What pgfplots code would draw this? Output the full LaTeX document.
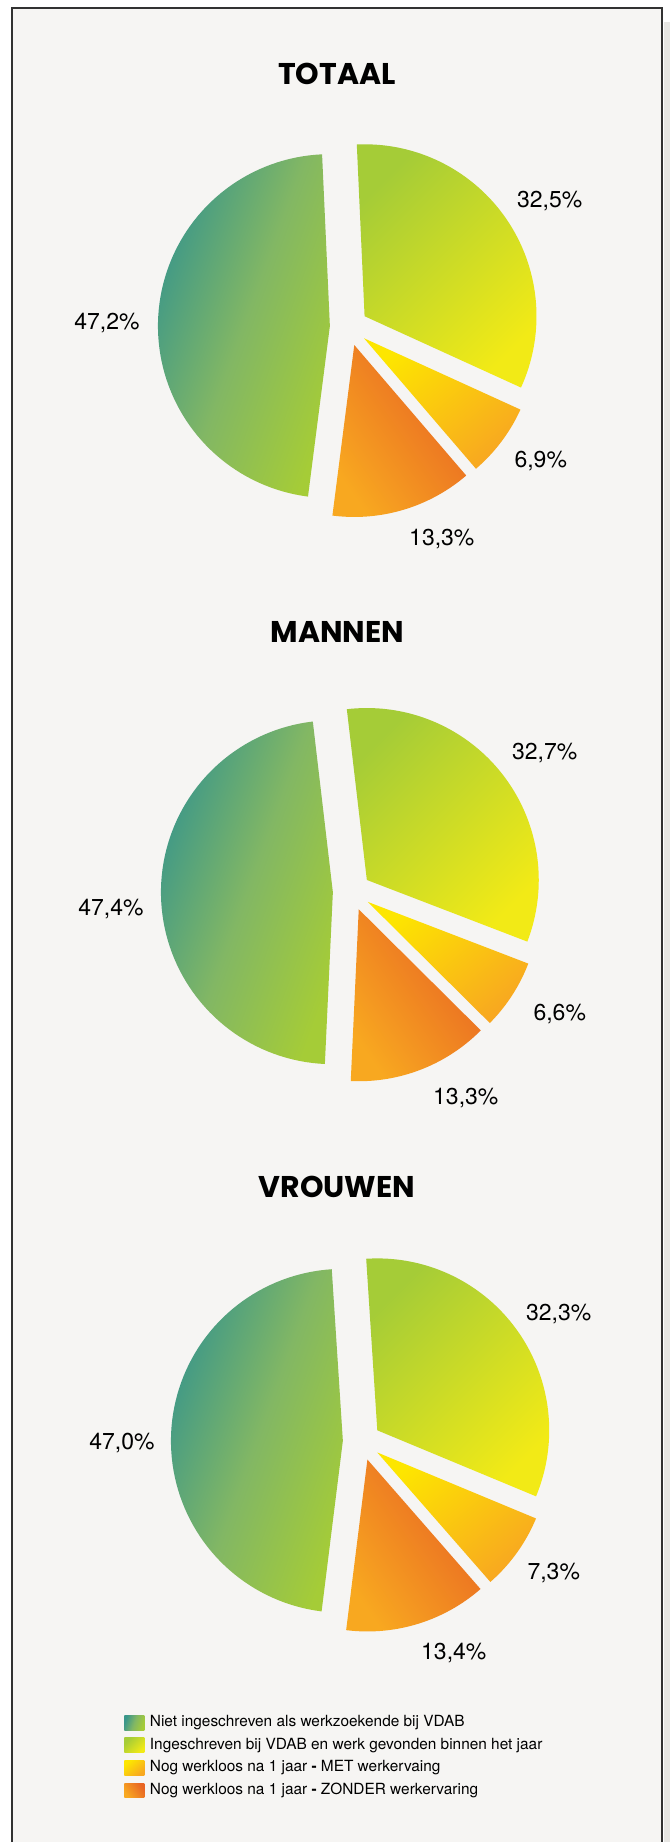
\documentclass[border=0pt]{standalone}
\usepackage{fontspec}
\setmainfont{TeX Gyre Heros}
\newfontfamily\titlefont{Poppins}
\usepackage{pgfplots}
\usepackage{pgfplotstable}
\pgfplotsset{compat=1.18}

\definecolor{panel}{RGB}{246,245,243}
\definecolor{shadowgray}{RGB}{231,230,227}
\definecolor{framec}{RGB}{50,50,50}
\definecolor{teal1}{RGB}{58,150,138}
\definecolor{green1}{RGB}{130,183,100}
\definecolor{green2}{RGB}{165,204,55}
\definecolor{yellow1}{RGB}{242,234,22}
\definecolor{yellow2}{RGB}{253,230,0}
\definecolor{orange1}{RGB}{248,168,32}
\definecolor{orange2}{RGB}{232,100,35}

% shares in legend order: niet ingeschreven, werk gevonden, MET, ZONDER
% lx, ly: label centre in picture pixels (y downwards)
\pgfplotstableread{
share lx  ly
47.2  107 322
32.5  550 200
6.9   541 460
13.3  442 538
}\totaal
\pgfplotstableread{
share lx  ly
47.4  111 908
32.7  545 752
6.6   560 1013
13.3  466 1097
}\mannen
\pgfplotstableread{
share lx  ly
47.0  122 1442
32.3  559 1313
7.3   554 1572
13.4  454 1652
}\vrouwen

\tikzset{
  slA/.style={left color=teal1, right color=green2, middle color=green1, shading angle=70},
  slB/.style={left color=green2, right color=yellow1, shading angle=45},
  slC/.style={left color=yellow2, right color=orange1, shading angle=40},
  slD/.style={left color=orange1, right color=orange2, shading angle=125},
  pct/.style={font=\fontsize{11.5}{13}\selectfont, inner sep=0pt, text=black, anchor=base},
  ttl/.style={font=\titlefont\bfseries\fontsize{15}{18}\selectfont, text=black}
}

\newcommand*\rad{172}
\newcommand*\explode{19}
\newcommand*\pieextra{}

% #1 cx, #2 cy, #3 from angle, #4 to angle (clockwise), #5 style, #6 table, #7 row
\newcommand{\pieslice}[7]{%
  \pgfplotstablegetelem{#7}{share}\of#6\let\val\pgfplotsretval
  \pgfplotstablegetelem{#7}{lx}\of#6\let\lx\pgfplotsretval
  \pgfplotstablegetelem{#7}{ly}\of#6\let\ly\pgfplotsretval
  \pgfmathsetmacro\ly{\ly+8}%
  \pgfmathsetmacro\midang{(#3+#4)/2}%
  \pgfmathsetmacro\apx{#1+\explode*cos(\midang)}%
  \pgfmathsetmacro\apy{#2-\explode*sin(\midang)}%
  \edef\doslice{\noexpand\addplot[#5,draw=none,domain=#4:#3,samples=80,\pieextra]
    ({\apx+\rad*cos(x)},{\apy-\rad*sin(x)}) -- (axis cs:\apx,\apy) -- cycle;}%
  \doslice
  \edef\dolabel{\noexpand\node[pct] at (axis cs:\lx,\ly)
    {\noexpand\pgfmathprintnumber[fixed,fixed zerofill,precision=1,use comma,assume math mode=true]{\val}\noexpand\%};}%
  \dolabel
}

% #1 table, #2 cx, #3 cy, #4 start angle
\newcommand{\drawpie}[4]{%
  \pgfplotstablegetelem{0}{share}\of#1\let\va\pgfplotsretval
  \pgfplotstablegetelem{1}{share}\of#1\let\vb\pgfplotsretval
  \pgfplotstablegetelem{2}{share}\of#1\let\vc\pgfplotsretval
  \pgfplotstablegetelem{3}{share}\of#1\let\vd\pgfplotsretval
  \pgfmathsetmacro\tot{\va+\vb+\vc+\vd}%
  \pgfmathsetmacro\angA{#4}%
  \pgfmathsetmacro\angB{\angA-360*\vb/\tot}%
  \pgfmathsetmacro\angC{\angB-360*\vc/\tot}%
  \pgfmathsetmacro\angD{\angC-360*\vd/\tot}%
  \pgfmathsetmacro\angE{\angA-360}%
  \pieslice{#2}{#3}{\angD}{\angE}{slA}{#1}{0}%
  \pieslice{#2}{#3}{\angA}{\angB}{slB}{#1}{1}%
  \pieslice{#2}{#3}{\angB}{\angC}{slC}{#1}{2}%
  \pieslice{#2}{#3}{\angC}{\angD}{slD}{#1}{3}%
}

\begin{document}
\begin{tikzpicture}
\begin{axis}[
  set layers,
  width=335pt, height=921.5pt, scale only axis,
  xmin=0, xmax=670, ymin=0, ymax=1843, y dir=reverse,
  hide axis, clip=false,
  legend image code/.code={\path[#1] (0pt,-3.7pt) rectangle (10pt,3.7pt);},
  legend cell align=left,
  legend style={at={(0.1851,0.0705)}, anchor=north west, draw=none, fill=none,
    inner sep=0pt, row sep=1.4pt, column sep=1.5pt,
    font=\fontsize{7.7}{9}\selectfont,
    nodes={inner sep=1.3pt, text height=5.7pt, text depth=1.6pt}},
]
\begin{pgfonlayer}{axis background}
  \fill[white] (axis cs:0,0) rectangle (axis cs:670,1843);
  \fill[shadowgray] (axis cs:664,22) rectangle (axis cs:670,1843);
  \fill[panel] (axis cs:12,8) rectangle (axis cs:662,1843);
  \draw[framec, line width=0.8pt] (axis cs:12,1843) -- (axis cs:12,8) -- (axis cs:662,8) -- (axis cs:662,1843);
\end{pgfonlayer}

\node[ttl] at (axis cs:337,74) {TOTAAL};
\node[ttl] at (axis cs:337.5,632.5) {MANNEN};
\node[ttl] at (axis cs:337,1187) {VROUWEN};

\drawpie{\totaal}{349}{327}{92.6}
\addlegendentry{Niet ingeschreven als werkzoekende bij VDAB}
\addlegendentry{Ingeschreven bij VDAB en werk gevonden binnen het jaar}
\addlegendentry{Nog werkloos na 1 jaar \textbf{-} MET werkervaing}
\addlegendentry{Nog werkloos na 1 jaar \textbf{-} ZONDER werkervaring}
\renewcommand*\pieextra{forget plot}
\drawpie{\mannen}{352}{892}{96.7}
\drawpie{\vrouwen}{362}{1442}{93.7}
\end{axis}
\end{tikzpicture}
\end{document}
